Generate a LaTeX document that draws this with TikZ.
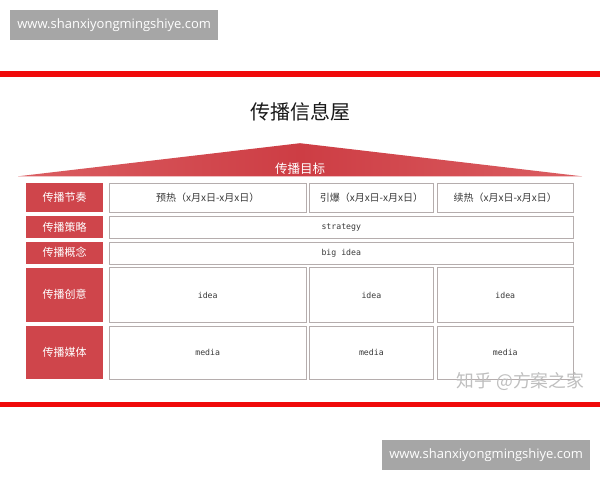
\documentclass[tikz,border=0pt]{standalone}
\usepackage{fontspec}
\newfontfamily\cjk{Noto Sans CJK SC}
\newfontfamily\wmfont{Open Sans}
\setmonofont{DejaVu Sans Mono}
\definecolor{labred}{HTML}{CF454B}
\definecolor{roofred}{HTML}{CD3D44}
\definecolor{roofpale}{HTML}{DB5E62}
\definecolor{cellgray}{HTML}{B5ADAD}
\definecolor{wmgray}{HTML}{A6A6A6}
\definecolor{txtgray}{HTML}{3A3A3A}
\definecolor{barred}{HTML}{F00A0A}
\tikzset{
  cellbox/.style={draw=cellgray, line width=0.9pt, fill=white, inner sep=0pt, anchor=north west,
    text=txtgray},
  cjkcell/.style={cellbox, font=\cjk\fontsize{10}{12}\selectfont},
  monocell/.style={cellbox, font=\ttfamily\fontsize{8.2}{10}\selectfont},
  labbox/.style={fill=labred, inner sep=0pt, anchor=north west, text=white,
    minimum width=77pt, font=\cjk\fontsize{11}{13}\selectfont},
  wmbox/.style={fill=wmgray, text=white, inner sep=0pt, anchor=north west,
    minimum width=208pt, minimum height=30pt, font=\wmfont\fontsize{13}{15}\selectfont},
  redbar/.style={fill=barred, draw=none}
}
\begin{document}
\begin{tikzpicture}[x=1pt,y=-1pt]
\useasboundingbox (0,0) rectangle (600,480);
\fill[white] (0,0) rectangle (600,480);
% watermark boxes
\node[wmbox] (wmtop) at (10,10) {www.shanxiyongmingshiye.com};
\node[wmbox] (wmbot) at (382,440) {www.shanxiyongmingshiye.com};
% red bars
\fill[redbar] (0,71) rectangle (600,76.5);
\fill[redbar] (0,401.7) rectangle (600,407.3);
% title
\node[font=\cjk\fontsize{20}{24}\selectfont, text=black!90] (title) at (300,112) {传播信息屋};
% roof
\shade[left color=roofpale, right color=roofpale, middle color=roofred]
  (18,176.3) -- (300,143.2) -- (582,176.3) -- cycle;
\node[font=\cjk\fontsize{12.5}{14}\selectfont, text=white] (goal) at (300,169) {传播目标};
% row 1
\node[labbox, minimum height=29pt] (l1) at (26,182.7) {传播节奏};
\node[cjkcell, minimum width=196.5pt, minimum height=29pt] (c11) at (109,182.7) {预热（x月x日-x月x日）};
\node[cjkcell, minimum width=124.5pt, minimum height=29pt] (c12) at (308.7,182.7) {引爆（x月x日-x月x日）};
\node[cjkcell, minimum width=135.7pt, minimum height=29pt] (c13) at (437,182.7) {续热（x月x日-x月x日）};
% row 2
\node[labbox, minimum height=22pt] (l2) at (26,216) {传播策略};
\node[monocell, minimum width=463.7pt, minimum height=22pt] (c2) at (109,216) {strategy};
% row 3
\node[labbox, minimum height=22pt] (l3) at (26,241.5) {传播概念};
\node[monocell, minimum width=463.7pt, minimum height=22pt] (c3) at (109,241.5) {big idea};
% row 4
\node[labbox, minimum height=54.4pt] (l4) at (26,267.3) {传播创意};
\node[monocell, minimum width=196.5pt, minimum height=54.4pt] (c41) at (109,267.3) {idea};
\node[monocell, minimum width=124.5pt, minimum height=54.4pt] (c42) at (308.7,267.3) {idea};
\node[monocell, minimum width=135.7pt, minimum height=54.4pt] (c43) at (437,267.3) {idea};
% row 5
\node[labbox, minimum height=53pt] (l5) at (26,325.7) {传播媒体};
\node[monocell, minimum width=196.5pt, minimum height=53pt] (c51) at (109,325.7) {media};
\node[monocell, minimum width=124.5pt, minimum height=53pt] (c52) at (308.7,325.7) {media};
\node[monocell, minimum width=135.7pt, minimum height=53pt] (c53) at (437,325.7) {media};
% zhihu watermark
\node[font=\cjk\fontsize{17.8}{20}\selectfont, text=black!25] (zh) at (520.5,381) {知乎 @方案之家};
\end{tikzpicture}
\end{document}
